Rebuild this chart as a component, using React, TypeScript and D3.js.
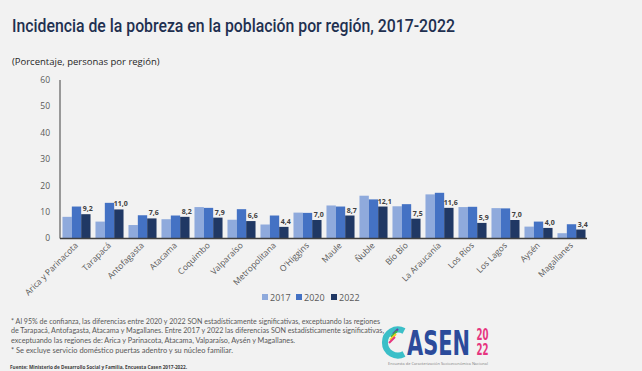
import React from 'react'
import * as d3 from 'd3'

const regions = [
  'Arica y Parinacota', 'Tarapacá', 'Antofagasta', 'Atacama', 'Coquimbo', 'Valparaíso',
  'Metropolitana', "O'Higgins", 'Maule', 'Ñuble', 'Bío Bío', 'La Araucanía',
  'Los Ríos', 'Los Lagos', 'Aysén', 'Magallanes',
]
const years = ['2017', '2020', '2022']
const v2017 = [8.2, 6.4, 5.1, 7.3, 11.9, 7.1, 5.3, 9.8, 12.5, 16.2, 12.2, 16.7, 11.9, 11.5, 4.5, 2.0]
const v2020 = [12.1, 13.5, 8.8, 8.7, 11.6, 11.1, 8.7, 9.7, 12.1, 14.8, 13.0, 17.3, 12.0, 11.4, 6.4, 5.4]
const v2022 = [9.2, 11.0, 7.6, 8.2, 7.9, 6.6, 4.4, 7.0, 8.7, 12.1, 7.5, 11.6, 5.9, 7.0, 4.0, 3.4]
const yTicks = [0, 10, 20, 30, 40, 50, 60]
const colors = ['#8faadc', '#4472c4', '#203864']
const notes = [
  '* Al 95% de confianza, las diferencias entre 2020 y 2022 SON estadísticamente significativas, exceptuando las regiones',
  'de Tarapacá, Antofagasta, Atacama y Magallanes. Entre 2017 y 2022 las diferencias SON estadísticamente significativas,',
  'exceptuando las regiones de: Arica y Parinacota, Atacama, Valparaíso, Aysén y Magallanes.',
  '* Se excluye servicio doméstico puertas adentro y su núcleo familiar.',
]
// widths of the note lines as they sit in the picture
const noteWidths = [369, 373, 284, 222]

const W = 642
const H = 371

export default function App() {
  const series = [v2017, v2020, v2022]
  const x = d3.scaleBand<string>().domain(regions).range([60, 588]).paddingInner(0.15).paddingOuter(0.075)
  const xi = d3.scaleBand<string>().domain(years).range([0, x.bandwidth()])
  const y = d3.scaleLinear().domain([0, 60]).range([238.5, 80])
  const fmt = (v: number) => v.toFixed(1).replace('.', ',')
  const font = 'Open Sans, sans-serif'
  const logoFont = 'DejaVu Sans Condensed, sans-serif'

  return (
    <svg width={W} height={H} style={{ position: 'absolute', left: 0, top: 0 }} fontFamily={font}>
      <rect width={W} height={H} fill="#f2f2f2" />
      <text x={12} y={32} fontSize={19} fontWeight={500} fill="#1f3050" fontFamily="Roboto, sans-serif"
        textLength={443} lengthAdjust="spacingAndGlyphs">
        Incidencia de la pobreza en la población por región, 2017-2022
      </text>
      <text x={12} y={65} fontSize={9.5} fill="#262626">(Porcentaje, personas por región)</text>

      {yTicks.map(t => (
        <text key={t} x={50} y={y(t)} dy="0.35em" textAnchor="end" fontSize={8.5} fill="#595959">{t}</text>
      ))}
      <line x1={60} x2={60} y1={80} y2={y(0)} stroke="#404040" strokeWidth={1} />

      {regions.map((r, i) => (
        <g key={r} transform={`translate(${x(r)},0)`}>
          {series.map((s, k) => (
            <rect key={k} x={xi(years[k])} y={y(s[i])} width={xi.bandwidth()} height={y(0) - y(s[i])}
              fill={colors[k]} />
          ))}
          <text x={(xi('2022') ?? 0) + xi.bandwidth() / 2 + 2} y={y(v2022[i]) - 3} textAnchor="middle"
            fontSize={7} fontWeight="bold" fill="#404040">{fmt(v2022[i])}</text>
        </g>
      ))}
      <line x1={60} x2={587} y1={y(0)} y2={y(0)} stroke="#404040" strokeWidth={1.3} />

      {regions.map(r => {
        const cx = (x(r) ?? 0) + x.bandwidth() / 2 + 2
        return (
          <text key={r} transform={`translate(${cx},246) rotate(-45)`} textAnchor="end" fontSize={8.5} fill="#595959">{r}</text>
        )
      })}

      {years.map((yr, k) => {
        const lx = [262, 296, 331][k]
        return (
          <g key={yr}>
            <rect x={lx} y={294} width={6} height={6} fill={colors[k]} />
            <text x={lx + 8} y={300.5} fontSize={9} fill="#595959">{yr}</text>
          </g>
        )
      })}

      {notes.map((n, i) => (
        <text key={i} x={11} y={323.5 + i * 9.7} fontSize={7.6} fill="#595959" fontFamily="Lato, sans-serif"
          textLength={noteWidths[i]} lengthAdjust="spacingAndGlyphs">{n}</text>
      ))}
      <text x={10} y={368.5} fontSize={5.6} fontWeight="bold" fill="#404040" textLength={177} lengthAdjust="spacingAndGlyphs">
        Fuente: Ministerio de Desarrollo Social y Familia, Encuesta Casen 2017-2022.
      </text>

      {/* logo */}
      <g>
        <path d="M404,331 A13,13 0 1,0 404,354" fill="none" stroke="#3bbfc8" strokeWidth={6} />
        <path d="M393,334 L398,329" stroke="#6a3fa0" strokeWidth={2} />
        <path d="M391,337 L397,331" stroke="#39b54a" strokeWidth={2} />
        <path d="M390,340 L396,334" stroke="#f7d11e" strokeWidth={2} />
        <path d="M389,343 L395,337" stroke="#e6357f" strokeWidth={2} />
        <g transform="translate(407,355) scale(1,1.45)">
          <text x={0} y={0} fontSize={23} fontWeight="bold" fill="#2b4b9b" fontFamily={logoFont}
            textLength={63} lengthAdjust="spacingAndGlyphs">ASEN</text>
        </g>
        <g transform="translate(476.5,340) scale(1,1.5)">
          <text x={0} y={0} fontSize={10} fontWeight="bold" fill="#e6357f" fontFamily={logoFont}
            textLength={12} lengthAdjust="spacingAndGlyphs">20</text>
        </g>
        <g transform="translate(476.5,355) scale(1,1.5)">
          <text x={0} y={0} fontSize={10} fontWeight="bold" fill="#e6357f" fontFamily={logoFont}
            textLength={12} lengthAdjust="spacingAndGlyphs">22</text>
        </g>
        <text x={388} y={365} fontSize={3.4} fill="#7f7f7f" textLength={100} lengthAdjust="spacingAndGlyphs">
          Encuesta de Caracterización Socioeconómica Nacional
        </text>
      </g>
    </svg>
  )
}
